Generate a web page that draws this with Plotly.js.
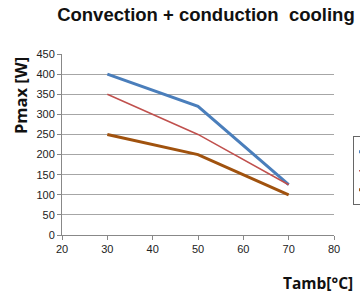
<!DOCTYPE html>
<html><head><meta charset="utf-8">
<script src="https://cdn.plot.ly/plotly-3.0.1.min.js"></script>
<style>html,body{margin:0;padding:0;background:#fff;}#chart{width:360px;height:293px;}</style>
</head><body><div id="chart"></div>
<script>
var tamb = [30, 50, 70];
var seriesNames = ["Series1", "Series2", "Series3"];
var blueVals = [400, 320, 125];
var redVals = [350, 250, 125];
var brownVals = [250, 200, 100];
var xTicks = [20, 30, 40, 50, 60, 70, 80];
var yTicks = [0, 50, 100, 150, 200, 250, 300, 350, 400, 450];

var traces = [
  {x: tamb, y: blueVals, name: seriesNames[0], mode: 'lines', line: {color: '#4a7ebb', width: 3}},
  {x: tamb, y: redVals, name: seriesNames[1], mode: 'lines', line: {color: '#c0504d', width: 1.5}},
  {x: tamb, y: brownVals, name: seriesNames[2], mode: 'lines', line: {color: '#a0520e', width: 3}}
];
var titleFont = {family: 'Open Sans, DejaVu Sans, sans-serif', size: 16, color: '#111'};
var layout = {
  width: 360, height: 293,
  margin: {l: 62, r: 26, t: 54, b: 58, autoexpand: false},
  paper_bgcolor: '#fff', plot_bgcolor: '#fff',
  font: {family: 'Liberation Sans, Arial, sans-serif', size: 11, color: '#222'},
  title: {text: '<b>Convection + conduction  cooling</b>', x: 0.572, xanchor: 'center', y: 0.95, yanchor: 'middle',
          font: {family: 'Liberation Sans, Arial, sans-serif', size: 18.5, color: '#111'}},
  xaxis: {range: [20, 80], tickvals: xTicks, ticktext: xTicks.map(String), showgrid: false, zeroline: false,
          showline: true, linecolor: '#888', linewidth: 1, ticks: 'outside', ticklen: 4, tickcolor: '#888',
          tickfont: {size: 11, color: '#222'}},
  yaxis: {range: [0, 450], tickvals: yTicks, ticktext: yTicks.map(String), showgrid: true, gridcolor: '#a6a6a6', gridwidth: 1,
          zeroline: false, showline: true, linecolor: '#888', linewidth: 1, ticks: 'outside', ticklen: 4, tickcolor: '#888',
          tickfont: {size: 11, color: '#222'}},
  showlegend: true,
  legend: {x: 1.07, xanchor: 'left', y: 0.545, yanchor: 'top', bordercolor: '#666', borderwidth: 1, bgcolor: '#fff',
           font: {size: 10}, tracegroupgap: 4},
  annotations: [
    {text: '<b>Tamb[°C]</b>', xref: 'paper', yref: 'paper', x: (355 - 62) / 272, xanchor: 'right',
     y: -(283 - 235) / 181, yanchor: 'middle', showarrow: false, font: {family: titleFont.family, size: 15.5, color: '#111'}},
    {text: '<b>Pmax [W]</b>', xref: 'paper', yref: 'paper', x: -(62 - 20) / 272, xanchor: 'center',
     y: (235 - 96) / 181, yanchor: 'middle', textangle: -90, showarrow: false, font: {family: titleFont.family, size: 16.5, color: '#111'}}
  ]
};
Plotly.newPlot('chart', traces, layout, {staticPlot: true, displayModeBar: false});
</script></body></html>
